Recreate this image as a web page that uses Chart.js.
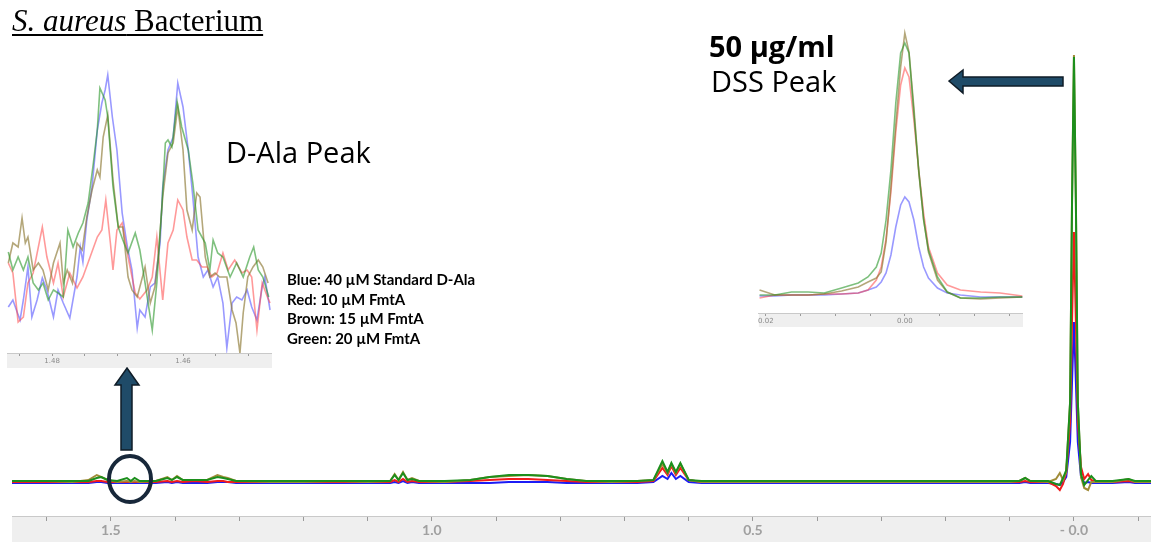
<!DOCTYPE html>
<html><head><meta charset="utf-8">
<script src="https://cdn.jsdelivr.net/npm/chart.js@4.4.1/dist/chart.umd.min.js"></script>
<style>
html,body{margin:0;padding:0;background:#fff;}
#wrap{position:relative;width:1151px;height:543px;overflow:hidden;background:#fff;}
canvas{position:absolute;}
.t{position:absolute;white-space:nowrap;color:#000;line-height:1;}
svg{position:absolute;left:0;top:0;}
</style></head><body>
<div id="wrap">
<canvas id="main" width="1151" height="543" style="left:0;top:0"></canvas>
<canvas id="dala" width="265" height="302" style="left:7px;top:68px"></canvas>
<canvas id="dss" width="266" height="303" style="left:757px;top:25px"></canvas>
<div class="t" style="left:12px;top:5px;font-family:'Liberation Serif';font-size:31px;text-decoration:underline;text-decoration-thickness:2px;text-underline-offset:3px"><i>S. aureus</i> Bacterium</div>
<div class="t" style="left:226px;top:137px;font-family:'Open Sans';font-size:29px">D-Ala Peak</div>
<div class="t" style="left:287px;top:270px;font-family:Lato;font-weight:bold;font-size:15px;line-height:19.6px">Blue: 40 µM Standard D-Ala<br>Red: 10 µM FmtA<br>Brown: 15 µM FmtA<br>Green: 20 µM FmtA</div>
<div class="t" style="left:709px;top:31px;font-family:'Open Sans';font-weight:bold;font-size:29px">50 µg/ml</div>
<div class="t" style="left:711px;top:66px;font-family:'Open Sans';font-size:29px">DSS Peak</div>
<svg width="1151" height="543">
  <polygon points="949,81 963,70 963,77 1063,77 1063,86 963,86 963,93" fill="#1f4b68" stroke="#0f1c27" stroke-width="1.5"/>
  <polygon points="127,368 139,385 132,385 132,450 121,450 121,385 115,385" fill="#1f4b68" stroke="#0f1c27" stroke-width="1.5"/>
  <ellipse cx="130" cy="479" rx="21" ry="23" fill="none" stroke="#18283a" stroke-width="4"/>
</svg>
</div>
<script>
// ---------- main spectrum (ppm, intensity above baseline) ----------
const mainPpm = [1.654,1.60,1.56,1.535,1.522,1.515,1.505,1.49,1.475,1.469,1.463,1.455,1.43,1.412,1.405,1.397,1.388,1.37,1.35,1.334,1.325,1.318,1.305,1.25,1.20,1.15,1.10,1.065,1.058,1.052,1.045,1.038,1.031,1.02,0.98,0.94,0.91,0.88,0.85,0.82,0.79,0.76,0.72,0.68,0.655,0.641,0.633,0.627,0.620,0.613,0.60,0.58,0.50,0.40,0.30,0.20,0.10,0.085,0.076,0.068,0.04,0.028,0.022,0.017,0.012,0.006,0.003,0.0,-0.003,-0.006,-0.011,-0.016,-0.022,-0.027,-0.034,-0.06,-0.085,-0.095,-0.12];
const mainBlue  = [-1,-1,-1,-1,0,0,-1,-1,-1,-1,-1,-1,-1,0,-1,0,-1,-1,-1,0,0,0,-1,-1,-1,-1,-1,-1,0,-1,1,-1,0,-1,-1,-1,-1,0,0,0,-1,-1,-1,-1,0,6,3,9,3,6,0,-1,-1,-1,-1,-1,-1,-1,0,-1,-1,-2,-3,0,5,40,100,160,100,40,5,-1,0,-1,-1,-1,0,-1,-1];
const mainRed   = [0,0,0,0,1,1,0,0,0,0,0,0,0,1,0,1,0,1,0,1,1,0,0,0,0,0,0,0,2,0,3,0,1,0,0,1,2,3,3,2,1,0,0,0,1,14,7,16,7,14,2,0,0,0,0,0,0,0,1,0,0,-4,-8,-2,10,60,160,250,160,60,15,3,8,2,0,0,1,0,0];
const mainBrown = [1,1,0,2,7,5,2,0,1,0,1,0,1,5,2,6,2,2,2,7,5,4,1,0,0,1,0,1,8,2,10,2,4,1,0,2,5,6,7,6,3,1,0,1,2,18,9,18,9,18,2,0,0,0,0,0,0,1,4,1,0,3,9,2,10,80,280,427,280,80,5,-6,-8,0,0,0,3,0,0];
const mainGreen = [1,1,1,1,4,5,2,1,4,1,4,1,1,4,2,5,2,2,2,5,4,3,1,1,1,1,1,1,7,2,9,2,3,1,1,2,5,7,7,6,3,1,1,1,2,21,10,19,10,19,2,1,1,1,1,1,1,1,4,1,1,-2,-3,4,12,80,280,425,280,80,8,-3,2,6,1,1,3,1,1];
const mainTicks = [1.6,1.5,1.4,1.3,1.2,1.1,1.0,0.9,0.8,0.7,0.6,0.5,0.4,0.3,0.2,0.1,0.0,-0.1];
const mainTickLabels = ['','1.5','','','','','1.0','','','','','0.5','','','','','- 0.0',''];

// ---------- D-Ala inset (ppm, intensity) ----------
const dalaBluePpm = [1.4867,1.4860,1.4853,1.4849,1.4844,1.4837,1.4831,1.4823,1.4815,1.4808,1.4798,1.4791,1.4783,1.4773,1.4762,1.4757,1.4753,1.4747,1.4739,1.4731,1.4724,1.4719,1.4715,1.4708,1.4701,1.4693,1.4685,1.4678,1.4670,1.4666,1.4658,1.4650,1.4643,1.4635,1.4631,1.4623,1.4615,1.4608,1.4600,1.4592,1.4585,1.4577,1.4569,1.4562,1.4554,1.4547,1.4539,1.4533,1.4525,1.4518,1.4510,1.4502,1.4495,1.4487,1.4479,1.4475,1.4467];
const dalaBlue = [46,53,40,33,53,86,36,53,75,63,36,63,50,35,76,106,91,133,166,223,250,263,278,236,203,140,106,83,25,43,36,66,70,110,166,203,216,270,246,203,156,96,76,83,66,76,50,5,50,56,53,63,46,33,66,76,43];
const dalaRedPpm = [1.4867,1.4860,1.4852,1.4844,1.4837,1.4829,1.4815,1.4808,1.4798,1.4791,1.4783,1.4773,1.4762,1.4753,1.4742,1.4731,1.4724,1.4718,1.4711,1.4707,1.4701,1.4693,1.4684,1.4673,1.4666,1.4655,1.4647,1.4640,1.4631,1.4623,1.4615,1.4608,1.4600,1.4594,1.4586,1.4579,1.4571,1.4563,1.4556,1.4548,1.4539,1.4531,1.4521,1.4510,1.4502,1.4495,1.4487,1.4479,1.4471,1.4467];
const dalaRed = [90,80,31,36,70,80,126,96,70,90,56,80,65,76,96,116,123,153,110,83,123,130,96,60,54,63,76,116,53,110,123,153,143,116,93,93,86,86,76,80,100,83,93,80,83,76,23,70,56,50];
const dalaBrownPpm = [1.4867,1.4860,1.4852,1.4846,1.4841,1.4837,1.4829,1.4821,1.4814,1.4806,1.4798,1.4788,1.4783,1.4777,1.4769,1.4762,1.4754,1.4747,1.4739,1.4731,1.4727,1.4722,1.4715,1.4707,1.4699,1.4692,1.4684,1.4678,1.4670,1.4658,1.4650,1.4643,1.4638,1.4631,1.4623,1.4615,1.4608,1.4600,1.4594,1.4586,1.4579,1.4574,1.4566,1.4559,1.4551,1.4544,1.4533,1.4525,1.4519,1.4513,1.4508,1.4501,1.4493,1.4485,1.4478,1.4470];
const dalaBrown = [90,110,106,135,110,116,83,90,83,63,90,110,70,83,70,110,103,136,163,183,176,216,238,173,126,126,76,63,56,86,50,66,96,156,200,210,246,203,143,123,160,156,96,76,80,76,76,43,30,0,40,76,86,93,86,70];
const dalaGreenPpm = [1.4867,1.4860,1.4852,1.4844,1.4837,1.4829,1.4821,1.4814,1.4806,1.4798,1.4791,1.4783,1.4776,1.4768,1.4760,1.4753,1.4745,1.4737,1.4731,1.4727,1.4719,1.4715,1.4707,1.4699,1.4692,1.4684,1.4673,1.4666,1.4658,1.4647,1.4640,1.4632,1.4627,1.4623,1.4617,1.4609,1.4602,1.4592,1.4585,1.4577,1.4566,1.4559,1.4554,1.4547,1.4539,1.4528,1.4518,1.4508,1.4498,1.4492,1.4485,1.4478,1.4469];
const dalaGreen = [101,83,96,83,96,70,63,70,53,63,60,56,123,106,120,130,150,190,223,265,253,236,166,126,113,100,120,103,70,23,70,150,210,213,206,251,226,203,170,123,110,83,113,100,96,76,90,76,96,106,83,76,56];
const dalaTicks = [1.485,1.48,1.475,1.47,1.465,1.46,1.455,1.45];
const dalaTickLabels = ['','1.48','','','','1.46','',''];

// ---------- DSS inset (ppm, intensity) ----------
const dssPpm = [0.0209,0.0187,0.0163,0.0139,0.0116,0.0091,0.0067,0.0053,0.0041,0.0034,0.0027,0.0020,0.0013,0.0006,0.0,-0.0006,-0.0013,-0.0020,-0.0027,-0.0034,-0.0047,-0.0061,-0.0080,-0.0109,-0.0137,-0.0169];
const dssBlue  = [1,1,2,2,2,3,4,7,10,15,24,42,70,92,100,95,77,50,30,19,9,4,2,0,0,0];
const dssRed   = [-1,2,2,2,3,3,4,7,17,30,58,105,165,212,229,220,177,127,84,50,24,12,7,5,4,1];
const dssBrown = [7,2,2,2,3,6,10,15,19,25,55,110,172,230,264,245,190,125,78,45,17,5,-1,-2,-1,0];
const dssGreen = [2,2,5,5,4,9,14,20,30,44,77,127,194,244,254,244,184,127,77,47,20,5,-1,-1,0,0];
const dssTicks = [0.02,0.015,0.01,0.005,0.0,-0.005,-0.01,-0.015];
const dssTickLabels = ['0.02','','','','0.00','','',''];

// ---------- helpers ----------
const pts = (xs, ys) => xs.map((x, i) => ({x: x, y: ys[i]}));
const bandPlugin = {
  id: 'band',
  beforeDraw(chart, args, opts) {
    const {ctx, chartArea} = chart;
    ctx.save();
    ctx.fillStyle = opts.color || '#efefef';
    ctx.fillRect(chartArea.left, chartArea.bottom, chartArea.right - chartArea.left, opts.h);
    ctx.restore();
  }
};
function xScale(min, max, ticks, labels, fit, font, color, tickLen) {
  return {
    type: 'linear', reverse: true, min: min, max: max,
    afterBuildTicks: s => { s.ticks = ticks.map(v => ({value: v})); },
    afterFit: s => { s.height = fit; },
    ticks: {autoSkip: false, maxRotation: 0, minRotation: 0, padding: 1,
            callback: (v, i) => labels[i], font: font, color: color},
    grid: {drawOnChartArea: false, tickLength: tickLen, color: '#9a9a9a', lineWidth: 1},
    border: {color: '#c9c9c9', width: 1}
  };
}
const baseOpts = (x, ymin, ymax, bandH) => ({
  responsive: false, animation: false, events: [],
  layout: {padding: 0},
  plugins: {legend: {display: false}, tooltip: {enabled: false}, band: {h: bandH}},
  elements: {point: {radius: 0}, line: {tension: 0}},
  scales: {x: x, y: {display: false, min: ymin, max: ymax}}
});

// main chart
const mainOpts = baseOpts(
  xScale(-0.12, 1.654, mainTicks, mainTickLabels, 27, {family: 'Lato', size: 14, weight: 'bold'}, '#a0a0a0', 5),
  -34, 482, 26);
mainOpts.layout = {padding: {left: 12, right: 0, top: 0, bottom: 0}};
new Chart(document.getElementById('main'), {
  type: 'line',
  data: {datasets: [
    {data: pts(mainPpm, mainGreen), borderColor: '#1c8f1c', borderWidth: 2},
    {data: pts(mainPpm, mainBrown), borderColor: '#a08c38', borderWidth: 2},
    {data: pts(mainPpm, mainRed), borderColor: '#f01c1c', borderWidth: 2},
    {data: pts(mainPpm, mainBlue), borderColor: '#1c1cf5', borderWidth: 2}
  ]},
  options: mainOpts,
  plugins: [bandPlugin]
});

// D-Ala inset
new Chart(document.getElementById('dala'), {
  type: 'line',
  data: {datasets: [
    {data: pts(dalaGreenPpm, dalaGreen), borderColor: 'rgba(40,150,40,0.6)', borderWidth: 1.6},
    {data: pts(dalaBrownPpm, dalaBrown), borderColor: 'rgba(140,120,50,0.65)', borderWidth: 1.6},
    {data: pts(dalaRedPpm, dalaRed), borderColor: 'rgba(255,70,70,0.55)', borderWidth: 1.6},
    {data: pts(dalaBluePpm, dalaBlue), borderColor: 'rgba(70,70,255,0.55)', borderWidth: 1.6}
  ]},
  options: baseOpts(
    xScale(1.4464, 1.4869, dalaTicks, dalaTickLabels, 17, {family: 'DejaVu Sans', size: 7}, '#8a8a8a', 3),
    0, 285, 15),
  plugins: [bandPlugin]
});

// DSS inset
new Chart(document.getElementById('dss'), {
  type: 'line',
  data: {datasets: [
    {data: pts(dssPpm, dssGreen), borderColor: 'rgba(40,150,40,0.6)', borderWidth: 1.6},
    {data: pts(dssPpm, dssBrown), borderColor: 'rgba(140,120,50,0.65)', borderWidth: 1.6},
    {data: pts(dssPpm, dssRed), borderColor: 'rgba(255,70,70,0.55)', borderWidth: 1.6},
    {data: pts(dssPpm, dssBlue), borderColor: 'rgba(70,70,255,0.55)', borderWidth: 1.6}
  ]},
  options: baseOpts(
    xScale(-0.0170, 0.0210, dssTicks, dssTickLabels, 15, {family: 'DejaVu Sans', size: 7}, '#8a8a8a', 3),
    -16, 272, 14),
  plugins: [bandPlugin]
});
</script>
</body></html>
